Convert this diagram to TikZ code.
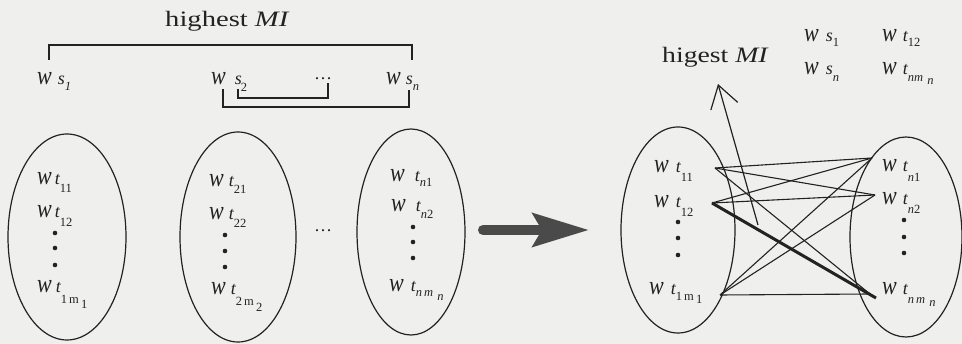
\documentclass[tikz,border=0pt]{standalone}
\usepackage{fontspec}
\setmainfont{Liberation Serif}
\usetikzlibrary{shapes.geometric,arrows.meta}
\definecolor{ink}{HTML}{222222}
\definecolor{paper}{HTML}{EFEFED}
\definecolor{arrowgray}{HTML}{4A4A4A}
\newcommand{\wW}{\scalebox{0.88}[1.05]{\fontsize{25}{25}\selectfont\itshape w}}
\newcommand{\tT}{{\fontsize{18}{18}\selectfont\itshape t}}
\newcommand{\sS}{{\fontsize{18}{18}\selectfont\itshape s}}
\newcommand{\lsub}[2]{\raisebox{-#1}{\fontsize{12.5}{12.5}\selectfont #2}}
\begin{document}
\begin{tikzpicture}[x=1pt,y=-1pt,
  lbl/.style={inner sep=0pt,anchor=base west,text=ink},
  set/.style={ellipse,draw=ink,line width=1.2pt,inner sep=0pt},
  dotmark/.style={circle,fill=ink,inner sep=0pt,minimum size=4.6pt},
  link/.style={draw=ink,line width=1.1pt},
  bracket/.style={draw=ink,line width=1.1pt},
  title/.style={inner sep=0pt,anchor=base west,text=ink,font=\fontsize{22}{22}\selectfont}]
\fill[paper] (0,0) rectangle (962,344);
\useasboundingbox (0,0) rectangle (962,344);

% ---------- left part: headings ----------
\node[title] (hMI) at (165,27) {\scalebox{1.3}[1]{highest \textit{MI}}};
\node[lbl] (ws1) at (37,85) {\wW\hspace{6pt}\sS\lsub{6pt}{\itshape 1}};
\node[lbl] (ws2) at (211,85) {\wW\hspace{9pt}\sS\hspace{-1pt}\lsub{7pt}{2}};
\node[lbl] (wsd) at (314,80) {\fontsize{18}{18}\selectfont …};
\node[lbl] (wsn) at (386,85) {\wW\hspace{5pt}\sS\lsub{6pt}{\itshape n}};

\coordinate (bA) at (49,60);
\coordinate (bB) at (412,60);
\draw[bracket] (bA) -- (49,45) -| (bB);
\coordinate (oA) at (223,89);
\coordinate (oB) at (409,90);
\draw[bracket] (oA) -- (223,107) -| (oB);
\coordinate (iA) at (238,89);
\coordinate (iB) at (328,83);
\draw[bracket] (iA) -- (238,98) -| (iB);

% ---------- left part: sets ----------
\node[set,minimum width=118pt,minimum height=206pt] (E1) at (67,237) {};
\node[set,minimum width=116pt,minimum height=210pt] (E2) at (238,237) {};
\node[set,minimum width=108pt,minimum height=206pt] (E3) at (411,232) {};

\node[lbl] (L11) at (37,185) {\wW\hspace{3pt}\tT\lsub{8pt}{11}};
\node[lbl] (L12) at (37,218) {\wW\hspace{3pt}\tT\lsub{9pt}{12}};
\node[dotmark] (d11) at (55,233) {};
\node[dotmark] (d12) at (55,248) {};
\node[dotmark] (d13) at (55,265) {};
\node[lbl] (L1m) at (37,293) {\wW\hspace{4pt}\tT\lsub{11pt}{1\,m}\lsub{16pt}{\,1}};

\node[lbl] (L21) at (209,187) {\wW\hspace{5pt}\tT\lsub{7pt}{21}};
\node[lbl] (L22) at (209,220) {\wW\hspace{5pt}\tT\lsub{8pt}{22}};
\node[dotmark] (d21) at (225,235) {};
\node[dotmark] (d22) at (225,251) {};
\node[dotmark] (d23) at (225,267) {};
\node[lbl] (L2m) at (211,295) {\wW\hspace{5pt}\tT\lsub{11pt}{2\,m}\lsub{17pt}{\,2}};

\node[lbl] (Ln1) at (390,182) {\wW\hspace{10pt}\tT\lsub{5pt}{\itshape n\upshape 1}};
\node[lbl] (Ln2) at (391,212) {\wW\hspace{10pt}\tT\lsub{7pt}{\itshape n\upshape 2}};
\node[dotmark] (d31) at (413,227) {};
\node[dotmark] (d32) at (413,242) {};
\node[dotmark] (d33) at (413,258) {};
\node[lbl] (Lnm) at (389,292) {\wW\hspace{7pt}\tT\lsub{5pt}{\itshape n\,m}\lsub{9pt}{\itshape \,\,n}};

\node[lbl] (mid) at (314,232) {\fontsize{18}{18}\selectfont …};

% ---------- big arrow ----------
\coordinate (gA) at (483,230);
\coordinate (gB) at (589,230);
\draw[arrowgray,line width=10pt,line cap=round,
  -{Stealth[length=56pt,width=33pt,inset=9pt]}] (gA) -- (gB);

% ---------- right part: headings ----------
\node[title] (hMI2) at (662,63) {\scalebox{1.26}[1]{higest \textit{MI}}};
\node[lbl] (rs1) at (804,42) {\wW\hspace{7pt}\sS\lsub{5pt}{1}};
\node[lbl] (rt12) at (882,42) {\wW\hspace{6pt}\tT\lsub{5pt}{12}};
\node[lbl] (rsn) at (804,75) {\wW\hspace{7pt}\sS\lsub{7pt}{\itshape n}};
\node[lbl] (rtnm) at (882,75) {\wW\hspace{6pt}\tT\lsub{7pt}{\itshape nm}\lsub{10pt}{\itshape \,\,n}};

% ---------- right part: sets ----------
\node[set,minimum width=114pt,minimum height=206pt] (E4) at (678,230) {};
\node[set,minimum width=112pt,minimum height=200pt] (E5) at (906,237) {};

\node[lbl] (R11) at (654,173) {\wW\hspace{7pt}\tT\lsub{9pt}{11}};
\node[lbl] (R12) at (654,208) {\wW\hspace{7pt}\tT\lsub{9pt}{12}};
\node[dotmark] (d41) at (678,222) {};
\node[dotmark] (d42) at (678,238) {};
\node[dotmark] (d43) at (678,255) {};
\node[lbl] (R1m) at (649,295) {\wW\hspace{7pt}\tT\lsub{6pt}{1\,m}\lsub{9pt}{\,1}};

\node[lbl] (Rn1) at (882,172) {\wW\hspace{6pt}\tT\lsub{10pt}{\itshape n\upshape 1}};
\node[lbl] (Rn2) at (882,205) {\wW\hspace{6pt}\tT\lsub{9pt}{\itshape n\upshape 2}};
\node[dotmark] (d51) at (904,220) {};
\node[dotmark] (d52) at (904,237) {};
\node[dotmark] (d53) at (904,253) {};
\node[lbl] (Rnm) at (882,295) {\wW\hspace{6pt}\tT\lsub{9pt}{\itshape n\,m}\lsub{12pt}{\itshape \,\,n}};

% ---------- links ----------
\coordinate (a1) at (715,168);
\coordinate (a2) at (712,203);
\coordinate (a3) at (720,295);
\coordinate (b1) at (872,158);
\coordinate (b2) at (875,195);
\coordinate (b3) at (870,294);
\coordinate (b3t) at (876,298);
\foreach \a in {a1,a2,a3}{
  \draw[link] (\a) -- (b1);
  \draw[link] (\a) -- (b2);
}
\draw[link] (a1) -- (b3);
\draw[link] (a3) -- (b3);
\draw[draw=ink,line width=3pt] (a2) -- (b3t);

% ---------- MI arrow ----------
\coordinate (mA) at (758,225);
\coordinate (mB) at (718,84);
\draw[draw=ink,line width=1.2pt,-{Straight Barb[length=22pt,width=28pt]}] (mA) -- (mB);
\end{tikzpicture}
\end{document}
